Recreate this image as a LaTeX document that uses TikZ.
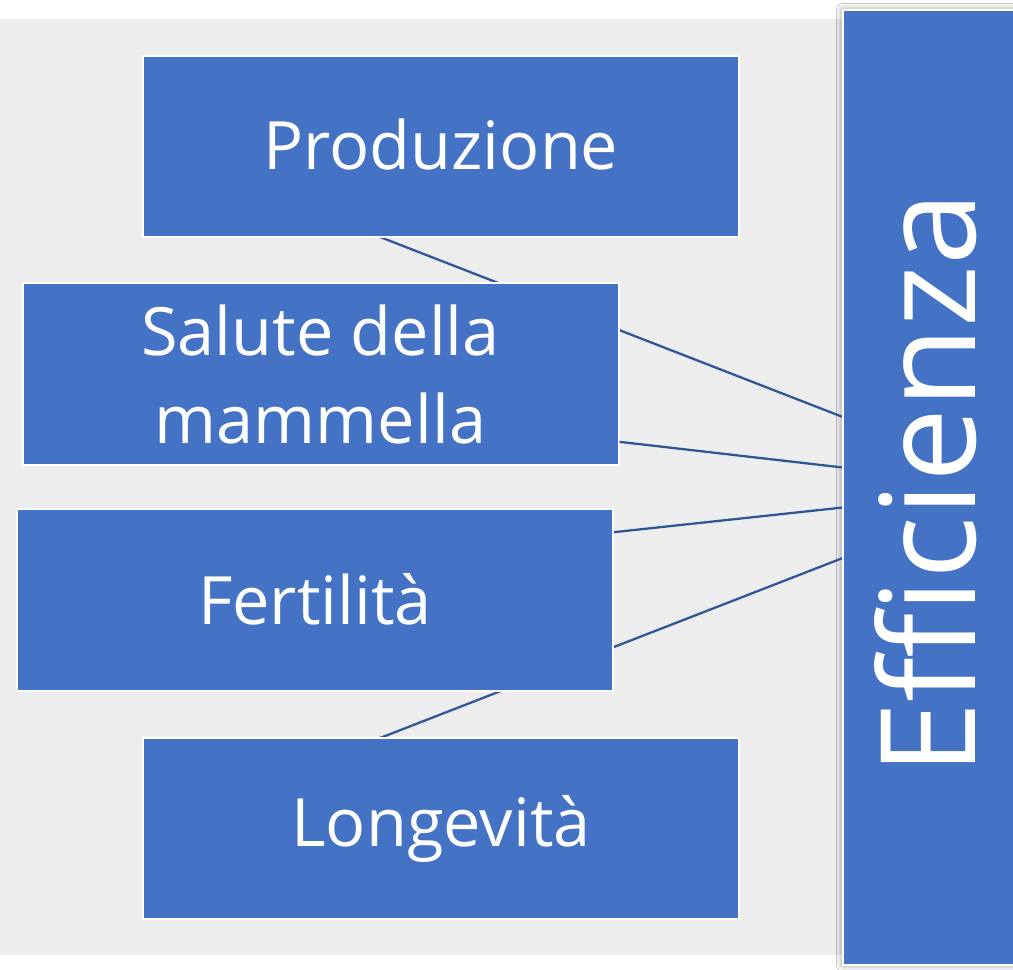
\documentclass[tikz,border=0pt]{standalone}
\usepackage{fontspec}
\setmainfont{Open Sans}
\usepackage{xcolor}
\usetikzlibrary{positioning, calc, shadows.blur}
\definecolor{boxblue}{HTML}{4472C4}
\definecolor{lineblue}{HTML}{2F5597}
\definecolor{sfondo}{HTML}{EDEDED}
\tikzset{
	% riquadri
	box/.style={
		rectangle,
		draw=white,
		line width=1.5pt,
		fill=boxblue,
		text=white,
		align=center,
		minimum width=447pt,
		minimum height=136pt,
		inner sep=0pt,
		font=\fontsize{50}{64}\selectfont
	}, %
	% collegamenti
	conn/.style={
		draw=lineblue,
		line width=1.7pt
	} %
}

\begin{document}
\begin{tikzpicture}[x=0.75pt,y=-0.75pt]
			% sfondo
			\useasboundingbox (0,0) rectangle (1013,970);
			\fill[white] (0,0) rectangle (1013,970);
			\fill[sfondo] (0,19) rectangle (1013,955);
			
			% efficienza
			\node[box, blur shadow={shadow xshift=0pt, shadow yshift=0pt, shadow blur radius=5pt, shadow opacity=50},
				minimum width=135pt, minimum height=716pt] (eff) at (933,487.5) {};
			\node[text=white, rotate=90, font=\fontsize{99}{120}\selectfont, anchor=base] (efft) at (975,484) {Efficienza};
			
			% coordinate dei collegamenti
			\coordinate (prodA) at (380,237);
			\coordinate (longA) at (380,738);
			\coordinate (effA) at ($(eff.north west)!0.426!(eff.south west)$);
			\coordinate (effB) at ($(eff.north west)!0.479!(eff.south west)$);
			\coordinate (effC) at ($(eff.north west)!0.521!(eff.south west)$);
			\coordinate (effD) at ($(eff.north west)!0.574!(eff.south west)$);
			
			% linee lunghe
			\draw[conn] (prodA)--(effA);
			\draw[conn] (longA)--(effD);
			
			% riquadri
			\node[box] (prod) at (441,146.5) {\raisebox{3pt}{Produzione}};
			\node[box] (sal) at (320.5,374) {\raisebox{2pt}{Salute della}\\mammella};
			\node[box] (fert) at (315,600) {\raisebox{2pt}{Fertilità}};
			\node[box] (long) at (441,828.5) {Longevità};
			
			% linee corte
			\draw[conn] ($(sal.north east)!0.87!(sal.south east)$)--(effB);
			\draw[conn] ($(fert.north east)!0.13!(fert.south east)$)--(effC);
		\end{tikzpicture}
\end{document}
